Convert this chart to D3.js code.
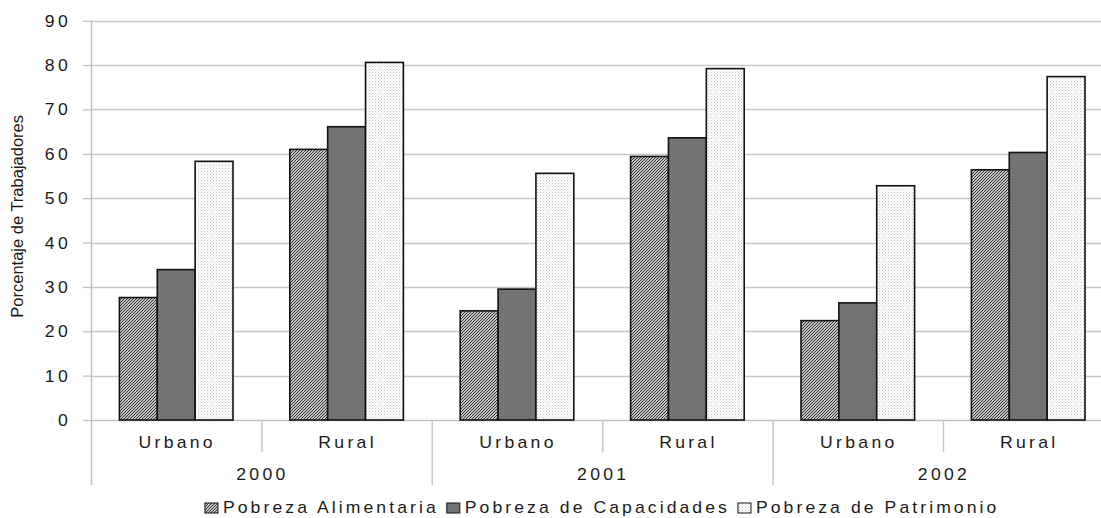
<!DOCTYPE html>
<html>
<head>
<meta charset="utf-8">
<script src="https://cdn.jsdelivr.net/npm/d3@7"></script>
<style>
  html, body { margin: 0; padding: 0; background: #ffffff; }
  svg { display: block; }
  text { font-family: "Liberation Sans", Arial, sans-serif; fill: #1a1a1a; }
</style>
</head>
<body>
<svg id="chart" width="1101" height="518"></svg>
<script>
// ---- data ----
const years = ["2000", "2001", "2002"];
const zones = ["Urbano", "Rural"];
const series = ["Pobreza Alimentaria", "Pobreza de Capacidades", "Pobreza de Patrimonio"];
const alimentaria  = [27.6, 61.0, 24.6, 59.4, 22.4, 56.4];
const capacidades  = [33.9, 66.1, 29.5, 63.6, 26.4, 60.3];
const patrimonio   = [58.3, 80.6, 55.6, 79.2, 52.8, 77.4];
const yTicks = [0, 10, 20, 30, 40, 50, 60, 70, 80, 90];
const yTitle = "Porcentaje de Trabajadores";

// ---- layout ----
const svg = d3.select("#chart");
const plot = { left: 91, right: 1113.4, top: 20.7, bottom: 420 };
const SX = 1.1;         // horizontal stretch of the axis/legend lettering
const LS = "3px";       // letter spacing of the axis/legend lettering
const FONT = 16;

const categories = [];
years.forEach(y => zones.forEach(z => categories.push(y + "|" + z)));
const valuesBySeries = [alimentaria, capacidades, patrimonio];

const x0 = d3.scaleBand().domain(categories).range([plot.left, plot.right]).paddingInner(0).paddingOuter(0);
const x1 = d3.scaleBand().domain(series).range([0, x0.bandwidth()]).paddingInner(0).paddingOuter(0.75);
const y = d3.scaleLinear().domain([0, 90]).range([plot.bottom, plot.top]);

// ---- fill patterns ----
const defs = svg.append("defs");
const pAli = defs.append("pattern").attr("id", "pat-ali").attr("patternUnits", "userSpaceOnUse")
  .attr("width", 3).attr("height", 3);
pAli.append("rect").attr("width", 3).attr("height", 3).attr("fill", "#ffffff");
pAli.append("path").attr("d", "M-1,1 L1,-1 M0,3 L3,0 M2,4 L4,2")
  .attr("stroke", "#2a2a2a").attr("stroke-width", 1.1);

const pCap = defs.append("pattern").attr("id", "pat-cap").attr("patternUnits", "userSpaceOnUse")
  .attr("width", 2).attr("height", 2);
pCap.append("rect").attr("width", 2).attr("height", 2).attr("fill", "#767676");
pCap.append("rect").attr("width", 1).attr("height", 1).attr("fill", "#6a6a6a");

const pPat = defs.append("pattern").attr("id", "pat-pat").attr("patternUnits", "userSpaceOnUse")
  .attr("width", 3).attr("height", 3);
pPat.append("rect").attr("width", 3).attr("height", 3).attr("fill", "#ffffff");
pPat.append("rect").attr("x", 0).attr("y", 0).attr("width", 1).attr("height", 1).attr("fill", "#c4c4c4");
pPat.append("rect").attr("x", 1.5).attr("y", 1.5).attr("width", 1).attr("height", 1).attr("fill", "#d6d6d6");

const fills = ["url(#pat-ali)", "url(#pat-cap)", "url(#pat-pat)"];

// stretched, letter-spaced text helper
function sText(parent, x, yy, str, anchor, ls) {
  const g = parent.append("g").attr("transform", `translate(${x},${yy}) scale(${SX},1)`);
  return g.append("text")
    .attr("text-anchor", anchor)
    .attr("font-size", FONT)
    .style("letter-spacing", ls || LS)
    .text(str);
}

// ---- gridlines ----
const grid = svg.append("g");
grid.selectAll("line").data(yTicks.filter(d => d > 0)).join("line")
  .attr("x1", plot.left).attr("x2", plot.right)
  .attr("y1", d => Math.round(y(d)) + 0.5).attr("y2", d => Math.round(y(d)) + 0.5)
  .attr("stroke", "#c8c8c8").attr("stroke-width", 1.3);

// ---- y axis ----
const yAxisG = svg.append("g").attr("transform", `translate(${plot.left},0)`)
  .call(d3.axisLeft(y).tickValues(yTicks).tickSize(8).tickFormat(""));
yAxisG.select(".domain").remove();
yAxisG.selectAll(".tick line").attr("stroke", "#c0c0c0").attr("stroke-width", 1.3);
yTicks.forEach(v => {
  sText(svg, 71, y(v) + 6, String(v), "end");
});
// axis line, extended down through the category label rows
svg.append("line").attr("x1", plot.left + 0.5).attr("x2", plot.left + 0.5)
  .attr("y1", plot.top).attr("y2", 485).attr("stroke", "#c0c0c0").attr("stroke-width", 1.5);

// y title
svg.append("text")
  .attr("transform", `translate(23,${(plot.top + plot.bottom) / 2 - 4}) rotate(-90)`)
  .attr("text-anchor", "middle").attr("font-size", 16.5)
  .text(yTitle);

// ---- x axis (two-level categories) ----
svg.append("line").attr("x1", plot.left).attr("x2", plot.right)
  .attr("y1", plot.bottom + 0.5).attr("y2", plot.bottom + 0.5)
  .attr("stroke", "#c0c0c0").attr("stroke-width", 1.5);

categories.forEach((c, i) => {
  const [yr, zone] = c.split("|");
  const cx = x0(c) + x0.bandwidth() / 2;
  sText(svg, cx + 1, 448, zone, "middle");
  if (i % 2 === 1) {
    // boundary between zones inside a year
    svg.append("line").attr("x1", x0(c) + 0.5).attr("x2", x0(c) + 0.5)
      .attr("y1", plot.bottom).attr("y2", 452)
      .attr("stroke", "#c8c8c8").attr("stroke-width", 1.5);
  } else if (i > 0) {
    // boundary between years
    svg.append("line").attr("x1", x0(c) + 0.5).attr("x2", x0(c) + 0.5)
      .attr("y1", plot.bottom).attr("y2", 485)
      .attr("stroke", "#c8c8c8").attr("stroke-width", 1.5);
  }
});
years.forEach(yr => {
  const a = x0(yr + "|" + zones[0]);
  const b = x0(yr + "|" + zones[1]) + x0.bandwidth();
  sText(svg, (a + b) / 2 + 1, 480, yr, "middle");
});

// ---- bars ----
series.forEach((s, si) => {
  svg.append("g").selectAll("rect").data(valuesBySeries[si]).join("rect")
    .attr("x", (d, i) => x0(categories[i]) + x1(s))
    .attr("y", d => y(d))
    .attr("width", x1.bandwidth())
    .attr("height", d => y(0) - y(d))
    .attr("fill", fills[si])
    .attr("stroke", "#111111").attr("stroke-width", 1.6);
});

// ---- legend ----
const legend = svg.append("g");
let cursor = 0;
series.forEach((s, si) => {
  const g = legend.append("g");
  g.append("rect").attr("x", cursor).attr("y", -10).attr("width", 13).attr("height", 10)
    .attr("fill", fills[si]).attr("stroke", "#111").attr("stroke-width", 1);
  const t = sText(g, cursor + 18, 0, s, "start", "2.8px");
  const w = t.node().getComputedTextLength() * SX;
  cursor += 18 + w + 8;
});
const total = cursor - 8;
const legendCenter = (plot.left + plot.right) / 2;
legend.attr("transform", `translate(${legendCenter - total / 2},513)`);
</script>
</body>
</html>
